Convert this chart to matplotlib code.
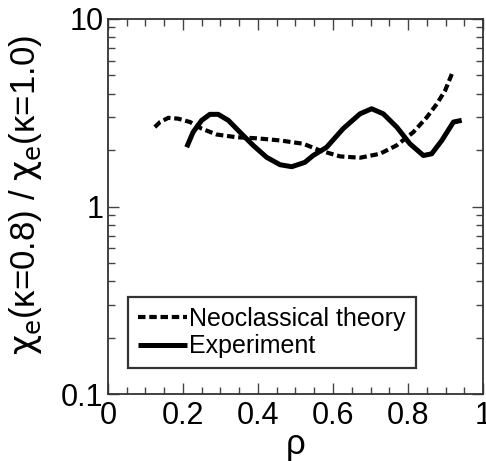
import matplotlib
matplotlib.use("Agg")
import matplotlib.pyplot as plt
from matplotlib.ticker import LogLocator, FixedLocator, NullFormatter, FixedFormatter

plt.rcParams['font.family'] = ['Liberation Sans', 'DejaVu Sans']
plt.rcParams['mathtext.fontset'] = 'custom'
plt.rcParams['mathtext.rm'] = 'DejaVu Sans'
plt.rcParams['mathtext.it'] = 'DejaVu Sans'

neo_rho = [0.125, 0.139, 0.161, 0.187, 0.219, 0.250, 0.290, 0.343, 0.397, 0.459, 0.521,
           0.565, 0.619, 0.672, 0.725, 0.770, 0.814, 0.850, 0.877, 0.899, 0.917]
neo_val = [2.65, 2.82, 2.97, 2.94, 2.82, 2.60, 2.42, 2.34, 2.31, 2.25, 2.16,
           1.99, 1.85, 1.82, 1.91, 2.12, 2.49, 2.99, 3.53, 4.16, 5.10]

exp_rho = [0.210, 0.227, 0.250, 0.272, 0.294, 0.321, 0.352, 0.387, 0.423, 0.459, 0.490, 0.525,
           0.547, 0.583, 0.627, 0.672, 0.703, 0.734, 0.770, 0.805, 0.841, 0.863, 0.890, 0.921, 0.943]
exp_val = [2.07, 2.49, 2.88, 3.10, 3.10, 2.88, 2.49, 2.12, 1.83, 1.67, 1.63, 1.72,
           1.87, 2.07, 2.60, 3.12, 3.32, 3.12, 2.65, 2.16, 1.87, 1.91, 2.25, 2.82, 2.88]

xticks = [0, 0.2, 0.4, 0.6, 0.8, 1]
xticklabels = ['0', '0.2', '0.4', '0.6', '0.8', '1']
yticks = [0.1, 1, 10]
yticklabels = ['0.1', '1', '10']

fig = plt.figure(figsize=(4.86, 4.61), dpi=100)
ax = fig.add_axes([0.222, 0.145, 0.772, 0.814])

ax.plot(neo_rho, neo_val, color='black', lw=3.0, linestyle=(0, (1.8, 0.9)),
        dash_capstyle='butt', solid_joinstyle='round', label='Neoclassical theory')
ax.plot(exp_rho, exp_val, color='black', lw=3.6, solid_capstyle='butt',
        solid_joinstyle='round', label='Experiment')

ax.set_yscale('log')
ax.set_xlim(0, 1)
ax.set_ylim(0.1, 10)
ax.xaxis.set_major_locator(FixedLocator(xticks))
ax.xaxis.set_major_formatter(FixedFormatter(xticklabels))
ax.xaxis.set_minor_locator(FixedLocator([i * 0.05 for i in range(21)]))
ax.yaxis.set_major_locator(FixedLocator(yticks))
ax.yaxis.set_major_formatter(FixedFormatter(yticklabels))
ax.yaxis.set_minor_locator(LogLocator(base=10, subs=range(2, 10)))
ax.yaxis.set_minor_formatter(NullFormatter())

ax.tick_params(which='both', direction='in', top=True, right=True, width=1.0, colors='#444444',
               labelcolor='black', labelsize=22)
ax.tick_params(axis='x', which='major', pad=5)
ax.tick_params(axis='y', which='major', pad=3)
ax.tick_params(which='major', length=8)
ax.tick_params(which='minor', length=5)
for s in ax.spines.values():
    s.set_linewidth(1.3)
    s.set_color('#333333')

ax.set_xlabel(r'ρ', fontsize=25, labelpad=-2)
ax.set_ylabel(r'$\mathrm{\chi_e}$(κ=0.8) / $\mathrm{\chi_e}$(κ=1.0)', fontsize=25)
ax.yaxis.set_label_coords(-0.17, 0.53)

leg = ax.legend(loc='lower left', bbox_to_anchor=(0.053, 0.069), fontsize=18, frameon=True,
                fancybox=False, edgecolor='black', handlelength=1.95, handletextpad=0.1,
                borderpad=0.4, labelspacing=0.15, borderaxespad=0)
leg.get_frame().set_linewidth(1.6)

fig.savefig('out.png', dpi=100)
